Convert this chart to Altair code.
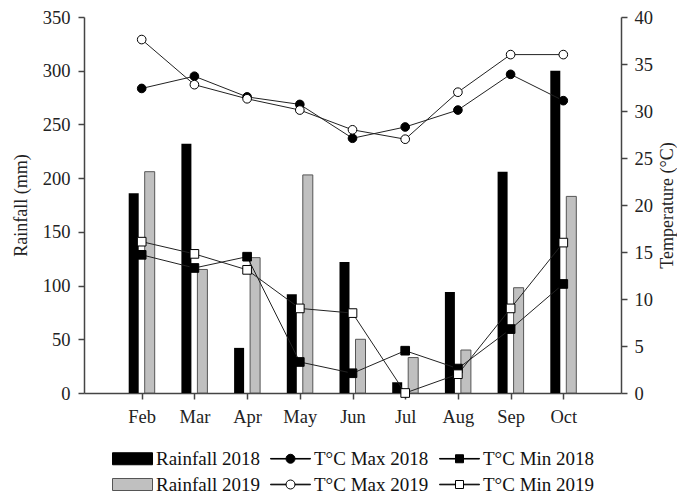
import altair as alt
import pandas as pd

months = ["Feb", "Mar", "Apr", "May", "Jun", "Jul", "Aug", "Sep", "Oct"]
month_num = [2, 3, 4, 5, 6, 7, 8, 9, 10]
rain_2018 = [186, 232, 42, 92, 122, 10, 94, 206, 300]
rain_2019 = [206, 115, 126, 203, 50, 33, 40, 98, 183]
tmax_2018 = [32.4, 33.7, 31.5, 30.7, 27.1, 28.3, 30.1, 33.9, 31.1]
tmax_2019 = [37.6, 32.8, 31.3, 30.1, 28.0, 27.0, 32.0, 36.0, 36.0]
tmin_2018 = [14.7, 13.3, 14.5, 3.3, 2.1, 4.5, 2.6, 6.8, 11.6]
tmin_2019 = [16.1, 14.8, 13.1, 9.0, 8.5, 0.0, 2.0, 9.0, 16.0]

rain_ticks = [0, 50, 100, 150, 200, 250, 300, 350]
temp_ticks = [0, 5, 10, 15, 20, 25, 30, 35, 40]

legend_names = ["Rainfall 2018", "T°C Max 2018", "T°C Min 2018",
                "Rainfall 2019", "T°C Max 2019", "T°C Min 2019"]

FONT = "Liberation Serif"
AX = "#444"

rain_df = pd.DataFrame({"month": month_num, "r18": rain_2018, "r19": rain_2019})
temp_df = pd.DataFrame({
    "month": month_num * 4,
    "series": (["T°C Max 2018"] * 9 + ["T°C Max 2019"] * 9 +
               ["T°C Min 2018"] * 9 + ["T°C Min 2019"] * 9),
    "value": tmax_2018 + tmax_2019 + tmin_2018 + tmin_2019,
})
legend_df = pd.DataFrame({"entry": legend_names})

label_expr = "[" + ",".join("'%s'" % m for m in months) + "][datum.value - 2]"

x_enc = alt.X("month:Q",
              scale=alt.Scale(domain=[1, 11], nice=False, zero=False),
              axis=alt.Axis(values=month_num, labelExpr=label_expr, title=None,
                            grid=False, tickSize=6, labelPadding=8))

rain_axis = alt.Axis(title="Rainfall (mm)", values=rain_ticks, orient="left",
                     grid=False, tickSize=6, labelPadding=8, titlePadding=12)
rain_scale = alt.Scale(domain=[0, 350], nice=False)

bars18 = alt.Chart(rain_df).mark_bar(width=10, xOffset=-8, color="black").encode(
    x=x_enc, y=alt.Y("r18:Q", scale=rain_scale, axis=rain_axis))
bars19 = alt.Chart(rain_df).mark_bar(width=10, xOffset=8, fill="#c0c0c0",
                                     stroke="#555", strokeWidth=1).encode(
    x=x_enc, y=alt.Y("r19:Q", scale=rain_scale, axis=rain_axis))
rain_layer = alt.layer(bars18, bars19)

temp_axis = alt.Axis(title="Temperature (°C)", values=temp_ticks, orient="right",
                     grid=False, tickSize=6, labelPadding=7, titlePadding=6,
                     titleAngle=270, titleBaseline="top")
temp_scale = alt.Scale(domain=[0, 40], nice=False)
ty = alt.Y("value:Q", scale=temp_scale, axis=temp_axis)

lines = alt.Chart(temp_df).mark_line(color="#222", strokeWidth=1).encode(
    x=x_enc, y=ty, detail="series:N")

styles = {
    "T°C Max 2018": dict(shape="circle", fill="black", size=75),
    "T°C Max 2019": dict(shape="circle", fill="white", size=75),
    "T°C Min 2018": dict(shape="square", fill="black", size=75),
    "T°C Min 2019": dict(shape="square", fill="white", size=75),
}
point_layers = []
for name, st in styles.items():
    point_layers.append(
        alt.Chart(temp_df).transform_filter(alt.datum.series == name)
        .mark_point(shape=st["shape"], filled=True, fill=st["fill"], stroke="black",
                    strokeWidth=1, size=st["size"], opacity=1)
        .encode(x=x_enc, y=ty)
    )

# legend symbol paths (unit coordinates, scaled by legend symbol size)
rect_path = "M-2,-0.6 H2 V0.6 H-2 Z"
line_l = "M-2,-0.03 H-0.45 V0.03 H-2 Z M0.45,-0.03 H2 V0.03 H0.45 Z"
circ = "M0.45,0 A0.45,0.45 0 1,1 -0.45,0 A0.45,0.45 0 1,1 0.45,0 Z"
sq = "M-0.4,-0.4 H0.4 V0.4 H-0.4 Z"
circle_path = line_l + " " + circ
square_path = line_l + " " + sq
shape_range = [rect_path, circle_path, square_path, rect_path, circle_path, square_path]
fill_range = ["black", "black", "black", "#c0c0c0", "white", "white"]
stroke_range = ["black", "black", "black", "#555", "black", "black"]

leg = alt.Legend(orient="none", legendX=38, legendY=431, columns=3,
                 direction="horizontal", title=None, symbolSize=400,
                 symbolStrokeWidth=1, labelFont=FONT, labelFontSize=19,
                 labelColor="#111", columnPadding=8, rowPadding=5,
                 labelOffset=13, symbolOpacity=1, labelLimit=0)

legend_layer = alt.Chart(legend_df).transform_filter("false").mark_point(
    filled=True).encode(
    shape=alt.Shape("entry:N", scale=alt.Scale(domain=legend_names, range=shape_range), legend=leg),
    fill=alt.Fill("entry:N", scale=alt.Scale(domain=legend_names, range=fill_range), legend=leg),
    stroke=alt.Stroke("entry:N", scale=alt.Scale(domain=legend_names, range=stroke_range), legend=leg),
)

temp_layer = alt.layer(lines, *point_layers, legend_layer)

chart = alt.layer(rain_layer, temp_layer).resolve_scale(y="independent").properties(
    width=537, height=376,
    padding={"left": 4, "top": 0, "right": 0, "bottom": 0},
).configure_view(stroke=None).configure_axis(
    labelFont=FONT, labelFontSize=18.5, labelColor="#222",
    titleFont=FONT, titleFontSize=18, titleFontWeight="normal", titleColor="#222",
    domainColor=AX, tickColor=AX, domainWidth=1.5, tickWidth=1.5,
)

chart.save("out.html", embed_options={"renderer": "svg", "actions": False})
